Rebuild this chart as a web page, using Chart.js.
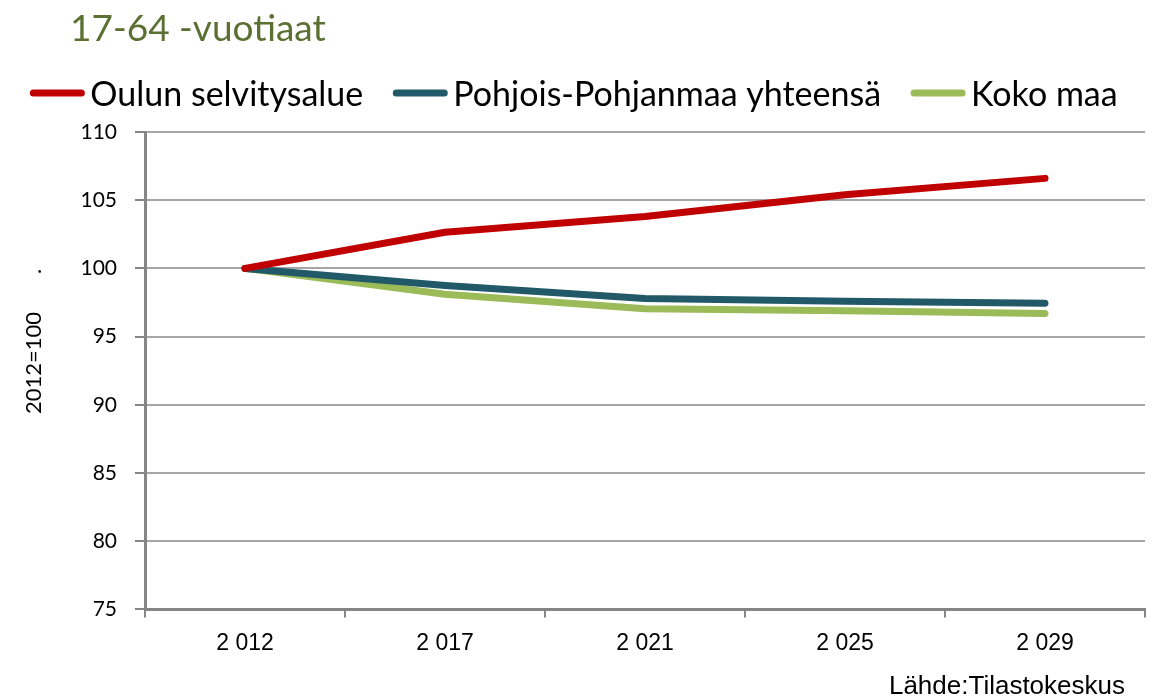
<!DOCTYPE html>
<html>
<head>
<meta charset="utf-8">
<script src="https://cdn.jsdelivr.net/npm/chart.js@4"></script>
<style>
  html, body { margin: 0; padding: 0; background: #fff; }
  #wrap { width: 1155px; height: 698px; }
</style>
</head>
<body>
<div id="wrap"><canvas id="myChart"></canvas></div>
<script>
const years = ["2 012", "2 017", "2 021", "2 025", "2 029"];
const oulu = [100, 102.65, 103.8, 105.4, 106.6];
const pohjois = [100, 98.75, 97.8, 97.6, 97.45];
const kokoMaa = [100, 98.1, 97.05, 96.9, 96.7];
const yTicks = [75, 80, 85, 90, 95, 100, 105, 110];

const chartTitle = "17-64 -vuotiaat";
const yTitle = "2012=100";
const sourceText = "Lähde:Tilastokeskus";

const mainFont = "Lato, 'Open Sans', sans-serif";
const plainFont = "'Liberation Sans', Arial, sans-serif";

// title, legend, axis caption and source line drawn on the canvas
const extraText = {
  id: "extraText",
  afterDraw: (chart) => {
    const ctx = chart.ctx;
    ctx.save();
    ctx.fillStyle = "#5b7032";
    ctx.font = "37px " + mainFont;
    ctx.textBaseline = "alphabetic";
    ctx.textAlign = "left";
    ctx.fillText(chartTitle, 70, 41);

    // legend row
    ctx.font = "34px " + mainFont;
    ctx.textBaseline = "middle";
    const items = chart.data.datasets.map((ds) => ({
      label: ds.label,
      color: ds.borderColor,
      w: ctx.measureText(ds.label).width,
    }));
    const lineLen = 54, gap = 6, itemGap = 30;
    let total = items.reduce((s, it) => s + lineLen + gap + it.w, 0) + itemGap * (items.length - 1);
    let x = 574 - total / 2;
    const ly = 93;
    items.forEach((it) => {
      ctx.strokeStyle = it.color;
      ctx.lineWidth = 7;
      ctx.lineCap = "round";
      ctx.beginPath();
      ctx.moveTo(x + 3, ly);
      ctx.lineTo(x + lineLen - 3, ly);
      ctx.stroke();
      ctx.fillStyle = "#000";
      ctx.fillText(it.label, x + lineLen + gap, ly + 2);
      x += lineLen + gap + it.w + itemGap;
    });

    ctx.fillStyle = "#000";
    ctx.textBaseline = "alphabetic";
    ctx.font = "26px " + plainFont;
    ctx.textAlign = "right";
    ctx.fillText(sourceText, 1125, 694);

    ctx.translate(41, 414);
    ctx.rotate(-Math.PI / 2);
    ctx.font = "22px " + mainFont;
    ctx.textAlign = "left";
    ctx.fillText(yTitle, 0, 0);
    ctx.fillText(".", 140, 0);
    ctx.restore();
  },
};

const lineSet = (label, data, color) => ({
  label: label,
  data: data,
  borderColor: color,
  backgroundColor: color,
  borderWidth: 7,
  borderCapStyle: "round",
  borderJoinStyle: "round",
  pointRadius: 0,
  tension: 0,
  fill: false,
});

new Chart(document.getElementById("myChart"), {
  type: "line",
  data: {
    labels: years,
    datasets: [
      lineSet("Oulun selvitysalue", oulu, "#c00000"),
      lineSet("Pohjois-Pohjanmaa yhteensä", pohjois, "#215968"),
      lineSet("Koko maa", kokoMaa, "#9bbb59"),
    ],
  },
  options: {
    responsive: true,
    maintainAspectRatio: false,
    animation: false,
    layout: {
      padding: { top: 132, left: 0, right: 10, bottom: 29 },
    },
    scales: {
      x: {
        offset: true,
        grid: {
          offset: true,
          drawOnChartArea: false,
          drawTicks: true,
          tickLength: 8,
          color: "#868686",
          lineWidth: 2,
        },
        border: { display: true, color: "#868686", width: 3 },
        ticks: {
          color: "#000",
          font: { family: plainFont, size: 23 },
          padding: 12,
          maxRotation: 0,
        },
      },
      y: {
        min: 75,
        max: 110,
        afterFit: (scale) => {
          scale.width = 145;
        },
        afterBuildTicks: (scale) => {
          scale.ticks = yTicks.map((v) => ({ value: v }));
        },
        grid: {
          color: "#a6a6a6",
          lineWidth: 2,
          tickLength: 10,
          tickColor: "#868686",
        },
        border: { display: true, color: "#868686", width: 3 },
        ticks: {
          color: "#000",
          font: { family: mainFont, size: 21 },
          padding: 18,
        },
      },
    },
    plugins: {
      legend: { display: false },
      tooltip: { enabled: false },
    },
  },
  plugins: [extraText],
});
</script>
</body>
</html>
